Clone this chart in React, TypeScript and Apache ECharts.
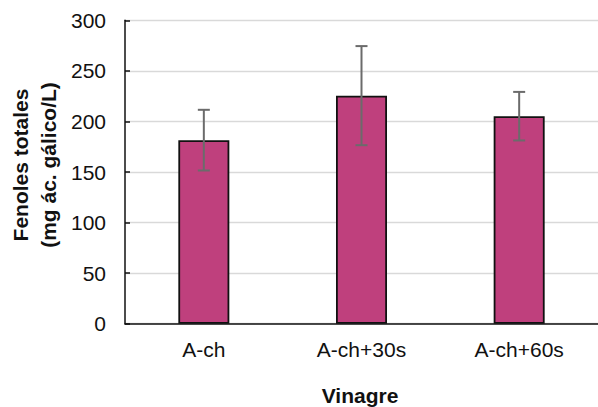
import React, { useEffect, useRef } from "react";
import * as echarts from "echarts";

const categories = ["A-ch", "A-ch+30s", "A-ch+60s"];
const values = [181.5, 225.5, 205.2];
const errors = [30, 49, 24];
const yTicks = [0, 50, 100, 150, 200, 250, 300];

const FONT = "'Liberation Sans', Arial, sans-serif";

export default function App() {
  const ref = useRef<HTMLDivElement>(null);
  useEffect(() => {
    if (!ref.current) return;
    const chart = echarts.init(ref.current, null, { renderer: "svg" });
    const errData = values.map((v, i) => [i, v - errors[i], v + errors[i]]);
    chart.setOption({
      animation: false,
      backgroundColor: "#ffffff",
      textStyle: { fontFamily: FONT },
      grid: { left: 125, right: -10, top: 20.3, bottom: 83.3, containLabel: false },
      xAxis: {
        type: "category",
        data: categories,
        axisLine: { lineStyle: { color: "#111111", width: 1.5 } },
        axisTick: { inside: true, length: 6, lineStyle: { color: "#111111", width: 1.5 } },
        axisLabel: { color: "#111111", fontSize: 21, fontFamily: FONT, margin: 15 },
      },
      yAxis: {
        type: "value",
        min: yTicks[0],
        max: yTicks[yTicks.length - 1],
        interval: 50,
        axisLine: { show: true, lineStyle: { color: "#111111", width: 1.5 } },
        axisTick: { show: true, inside: true, length: 5, lineStyle: { color: "#111111", width: 1.5 } },
        axisLabel: { color: "#111111", fontSize: 21, fontFamily: FONT, margin: 19 },
        splitLine: { show: true, lineStyle: { color: "#d9d9d9", width: 1.3 } },
      },
      series: [
        {
          type: "bar",
          data: values,
          barWidth: 51,
          itemStyle: { color: "#bf407d", borderColor: "#111111", borderWidth: 1.8 },
          z: 2,
        },
        {
          type: "custom",
          data: errData,
          z: 3,
          renderItem: (params: any, api: any) => {
            const x = api.value(0);
            const lo = api.coord([x, api.value(1)]);
            const hi = api.coord([x, api.value(2)]);
            const hw = 6;
            const style = { stroke: "#6b6b6b", lineWidth: 2, fill: "none" };
            return {
              type: "group",
              children: [
                { type: "line", shape: { x1: lo[0], y1: lo[1], x2: hi[0], y2: hi[1] }, style },
                { type: "line", shape: { x1: hi[0] - hw, y1: hi[1], x2: hi[0] + hw, y2: hi[1] }, style },
                { type: "line", shape: { x1: lo[0] - hw, y1: lo[1], x2: lo[0] + hw, y2: lo[1] }, style },
              ],
            };
          },
        },
      ],
      graphic: [
        {
          type: "text",
          x: 34,
          y: 165,
          rotation: Math.PI / 2,
          style: {
            text: "Fenoles totales\n(mg ác. gálico/L)",
            font: `bold 21px ${FONT}`,
            fill: "#111111",
            align: "center",
            verticalAlign: "middle",
            lineHeight: 28,
          },
        },
        {
          type: "text",
          x: 360,
          y: 395,
          style: {
            text: "Vinagre",
            font: `bold 21px ${FONT}`,
            fill: "#111111",
            align: "center",
            verticalAlign: "middle",
          },
        },
      ],
    });
    return () => chart.dispose();
  }, []);
  return (
    <div style={{ position: "fixed", left: 0, top: 0, width: 598, height: 407, background: "#fff" }}>
      <div ref={ref} style={{ width: 598, height: 407 }} />
    </div>
  );
}
